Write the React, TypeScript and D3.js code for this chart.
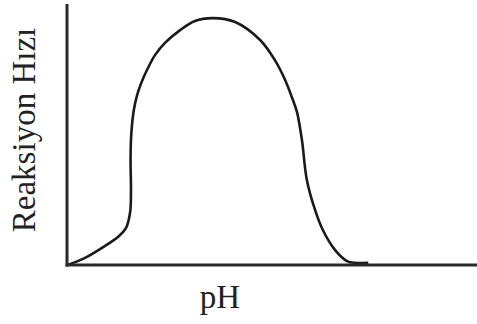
import React from "react";
import * as d3 from "d3";

// Reaction rate as a function of pH (qualitative curve)
const phValues = [0.02, 0.44, 0.93, 1.24, 1.44, 1.54, 1.56, 1.55, 1.56, 1.585, 1.63, 1.71, 1.8, 1.95, 2.15, 2.39, 2.76, 3.12, 3.56, 4.1, 4.71, 5.07, 5.32, 5.51, 5.61, 5.73, 5.85, 6.05, 6.24, 6.54, 6.83, 7.02, 7.32];
const rateValues = [0, 0.27, 0.73, 1.07, 1.42, 2.03, 2.87, 4.02, 4.79, 5.36, 5.94, 6.51, 6.93, 7.47, 8.05, 8.51, 9.0, 9.35, 9.46, 9.31, 8.62, 7.85, 7.09, 6.32, 5.86, 4.79, 3.26, 2.11, 1.34, 0.57, 0.15, 0.08, 0.08];

const xLabel = "pH";
const yLabel = "Reaksiyon Hızı";

const W = 477;
const H = 324;

export default function App() {
  const x = d3.scaleLinear().domain([0, 10]).range([67, 477]);
  const y = d3.scaleLinear().domain([0, 10]).range([265, 4]);

  const pts: [number, number][] = phValues.map((p, i) => [p, rateValues[i]]);
  const line = d3
    .line<[number, number]>()
    .x((d) => x(d[0]))
    .y((d) => y(d[1]))
    .curve(d3.curveCatmullRom.alpha(0.5));

  return (
    <svg
      width={W}
      height={H}
      style={{ position: "absolute", left: 0, top: 0, background: "#fff" }}
    >
      <path d={line(pts) ?? ""} fill="none" stroke="#1a1a1a" strokeWidth={2.6} strokeLinejoin="round" strokeLinecap="round" />
      <line x1={x(0)} x2={x(0)} y1={y(10)} y2={y(0) + 1.5} stroke="#2a2a2a" strokeWidth={3} />
      <line x1={x(0) - 1.5} x2={x(10)} y1={y(0)} y2={y(0)} stroke="#2a2a2a" strokeWidth={3} />
      <text
        x={220}
        y={308}
        textAnchor="middle"
        fontFamily="'Liberation Serif', 'Times New Roman', serif"
        fontSize={33}
        fill="#222"
      >
        {xLabel}
      </text>
      <text
        transform={`translate(35, 130) rotate(-90)`}
        textAnchor="middle"
        fontFamily="'Liberation Serif', 'Times New Roman', serif"
        fontSize={33}
        fill="#222"
      >
        {yLabel}
      </text>
    </svg>
  );
}
